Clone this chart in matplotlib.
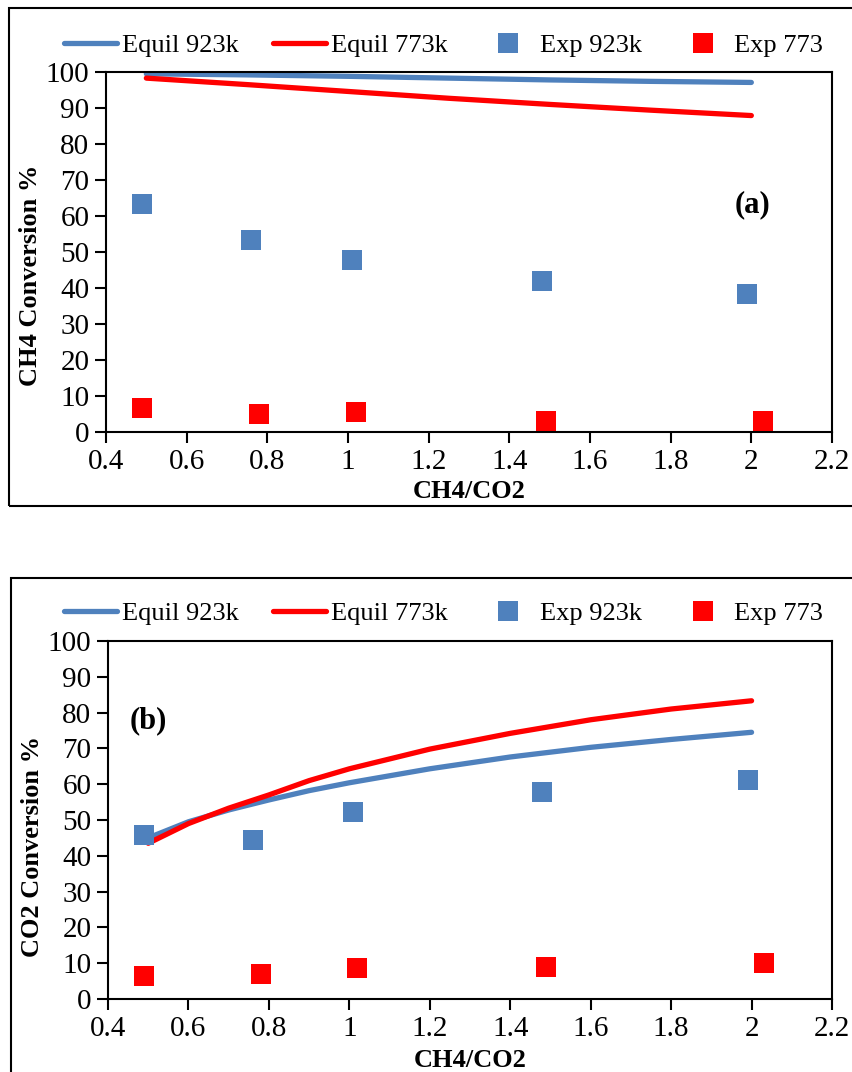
import matplotlib
matplotlib.use("Agg")
import matplotlib.pyplot as plt
from matplotlib.patches import Rectangle
from matplotlib.ticker import FuncFormatter

plt.rcParams['font.family'] = ['Liberation Serif', 'DejaVu Serif']

# panel (a): CH4 conversion
equil_x_a = [0.5, 0.75, 1.0, 1.25, 1.5, 1.75, 2.0]
equil923_a = [99.5, 99.2, 98.8, 98.3, 97.8, 97.4, 97.1]
equil773_a = [98.3, 96.5, 94.6, 92.7, 91.0, 89.4, 87.9]

exp923_x_a = [0.49, 0.76, 1.01, 1.48, 1.99]
exp923_a = [63.4, 53.4, 47.9, 42.0, 38.2]
exp773_x_a = [0.49, 0.78, 1.02, 1.49, 2.03]
exp773_a = [6.7, 5.0, 5.6, 3.0, 3.0]

# panel (b): CO2 conversion
equil_x_b = [0.5, 0.6, 0.7, 0.8, 0.9, 1.0, 1.2, 1.4, 1.6, 1.8, 2.0]
equil923_b = [45.0, 49.5, 52.8, 55.6, 58.2, 60.4, 64.3, 67.6, 70.3, 72.5, 74.5]
equil773_b = [43.5, 49.0, 53.3, 57.0, 61.0, 64.3, 69.8, 74.2, 78.0, 81.0, 83.3]

exp923_x_b = [0.49, 0.76, 1.01, 1.48, 1.99]
exp923_b = [45.8, 44.5, 52.1, 57.9, 61.3]
exp773_x_b = [0.49, 0.78, 1.02, 1.49, 2.03]
exp773_b = [6.4, 7.0, 8.6, 8.9, 10.1]

legend_labels = ["Equil 923k", "Equil 773k", "Exp 923k", "Exp 773"]
blue = "#4F81BD"
red = "#FF0000"

fig = plt.figure(figsize=(8.53, 10.72), dpi=100)

# outer frames around each chart
fig.patches.append(Rectangle((9/853, 1-506/1072), 1.1, 498/1072, transform=fig.transFigure,
                             fill=False, ec="black", lw=1.5, zorder=0))
fig.patches.append(Rectangle((11/853, -0.1), 1.1, 0.1+1-578/1072, transform=fig.transFigure,
                             fill=False, ec="black", lw=1.5, zorder=0))


def draw_panel(ax, ex, e923, e773, x923, y923, x773, y773, ylabel, tag, tagpos, ylab_y, xlab_y, leg_y):
    l1, = ax.plot(ex, e923, color=blue, lw=3.8, solid_capstyle="round")
    l2, = ax.plot(ex, e773, color=red, lw=3.8, solid_capstyle="round")
    m1, = ax.plot(x923, y923, "s", color=blue, ms=14, mew=0)
    m2, = ax.plot(x773, y773, "s", color=red, ms=14, mew=0)
    ax.set_xlim(0.4, 2.2)
    ax.set_ylim(0, 100)
    ax.set_xticks([0.4 + 0.2*i for i in range(10)])
    ax.set_yticks(range(0, 101, 10))
    ax.xaxis.set_major_formatter(FuncFormatter(lambda v, p: f"{v:g}"))
    ax.tick_params(direction="out", length=8, width=1.5, labelsize=21, pad=4)
    for s in ax.spines.values():
        s.set_linewidth(1.5)
    ax.set_xlabel("CH4/CO2", fontsize=19, fontweight="bold")
    ax.set_ylabel(ylabel, fontsize=19, fontweight="bold")
    ax.yaxis.set_label_coords(-0.088, ylab_y)
    ax.xaxis.set_label_coords(0.5, xlab_y)
    ax.text(tagpos[0], tagpos[1], tag, transform=ax.transAxes, fontsize=22,
            fontweight="bold", ha="center", va="center")
    fig.legend([l1, l2, m1, m2], legend_labels, loc="center", bbox_to_anchor=(0.52, leg_y),
               ncol=4, frameon=False, fontsize=19, handlelength=2.0, handletextpad=0.2,
               columnspacing=1.3, markerscale=1.0)


ax_a = fig.add_axes([106/853, 1-432/1072, 726/853, 360/1072])
draw_panel(ax_a, equil_x_a, equil923_a, equil773_a, exp923_x_a, exp923_a, exp773_x_a, exp773_a,
           "CH4 Conversion %", "(a)", (0.89, 0.63), 0.436, -0.132, 1-45/1072)

ax_b = fig.add_axes([108/853, 1-999/1072, 724/853, 358/1072])
draw_panel(ax_b, equil_x_b, equil923_b, equil773_b, exp923_x_b, exp923_b, exp773_x_b, exp773_b,
           "CO2 Conversion %", "(b)", (0.055, 0.777), 0.427, -0.14, 1-613/1072)

fig.savefig("out.png", dpi=100)
